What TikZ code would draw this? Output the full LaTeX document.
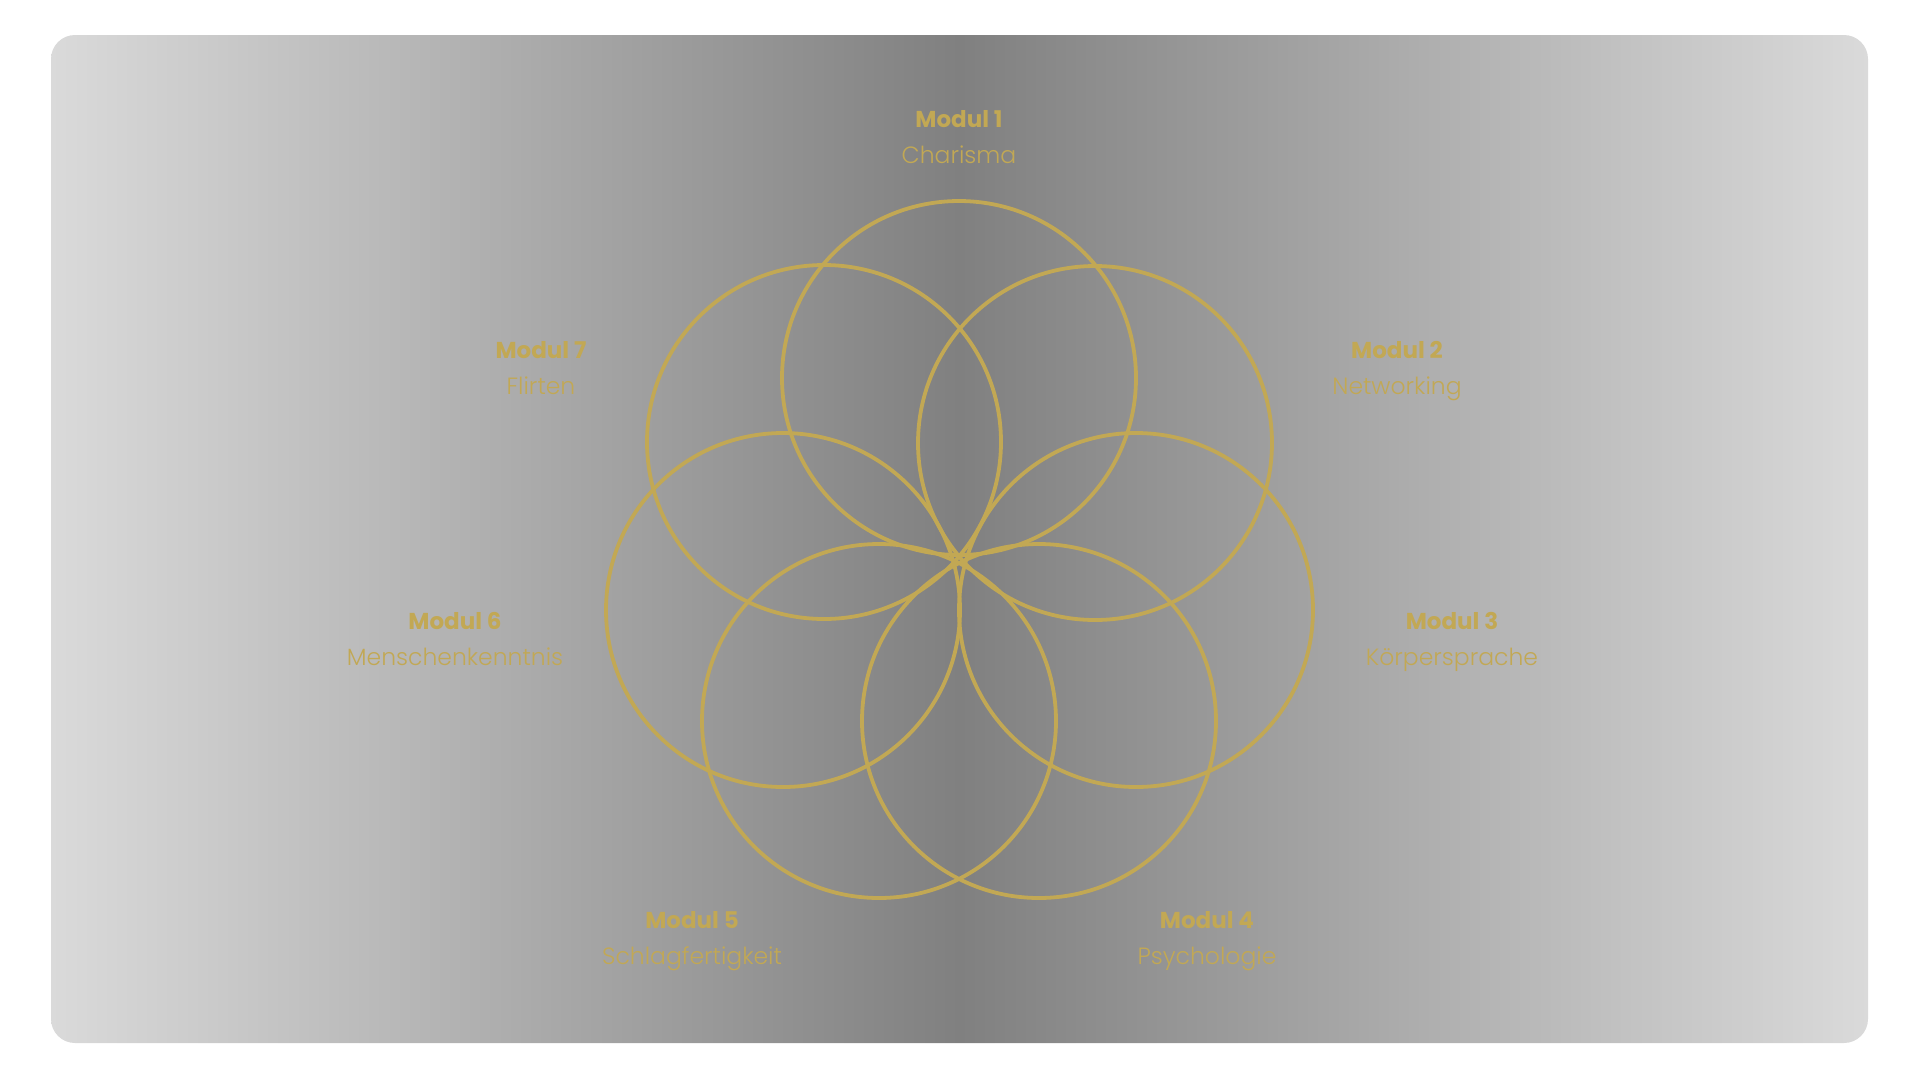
\documentclass[tikz,border=0pt]{standalone}
\usepackage{fontspec}
\setmainfont{Poppins}
\newfontfamily\lightfont{Poppins}[UprightFont=* Light]
\definecolor{gold}{RGB}{194,168,84}
\definecolor{edgegray}{RGB}{218,218,218}
\definecolor{midgray}{RGB}{128,128,128}
\tikzset{
  ring/.style={draw=gold, line width=3.8pt},
  modtitle/.style={anchor=base, text=gold, font=\fontsize{23}{27}\selectfont\bfseries, inner sep=0pt},
  modname/.style={anchor=base, text=gold, font=\fontsize{23.5}{28}\selectfont\lightfont, inner sep=0pt}
}
\begin{document}
\begin{tikzpicture}[x=1pt,y=-1pt]
\useasboundingbox (0,0) rectangle (1920,1080);
\shade[rounded corners=24pt, left color=edgegray, right color=edgegray, middle color=midgray]
  (51,35) rectangle (1868,1043);
% ring centres
\coordinate (c1) at (959,378);
\coordinate (c2) at (1095,443);
\coordinate (c3) at (1136,610);
\coordinate (c4) at (1039,721);
\coordinate (c5) at (879,721);
\coordinate (c6) at (783,610);
\coordinate (c7) at (824,442);
\foreach \c in {c1,c2,c3,c4,c5,c6,c7}{
  \draw[ring] (\c) circle[radius=177pt];
}
% labels
\node[modtitle] (m1) at (959,127) {Modul 1};
\node[modname]  (n1) at (959,163) {Charisma};
\node[modtitle] (m2) at (1397,358) {Modul 2};
\node[modname]  (n2) at (1397,394) {Networking};
\node[modtitle] (m3) at (1452,629) {Modul 3};
\node[modname]  (n3) at (1452,665) {Körpersprache};
\node[modtitle] (m4) at (1207,928) {Modul 4};
\node[modname]  (n4) at (1207,964) {Psychologie};
\node[modtitle] (m5) at (692,928) {Modul 5};
\node[modname]  (n5) at (692,964) {Schlagfertigkeit};
\node[modtitle] (m6) at (455,629) {Modul 6};
\node[modname]  (n6) at (455,665) {Menschenkenntnis};
\node[modtitle] (m7) at (541,358) {Modul 7};
\node[modname]  (n7) at (541,394) {Flirten};
\end{tikzpicture}
\end{document}
